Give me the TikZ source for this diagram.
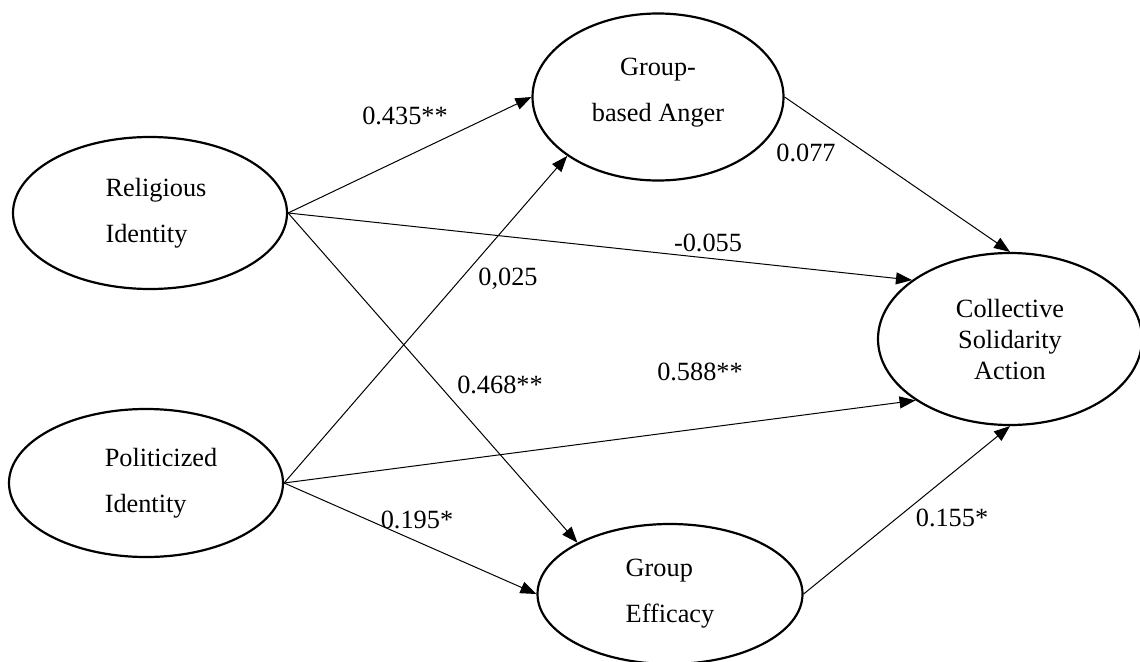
\documentclass[tikz,border=0pt]{standalone}
\usepackage{fontspec}
\setmainfont{Liberation Serif}
\usetikzlibrary{shapes.geometric,arrows.meta}
\begin{document}
\begin{tikzpicture}[x=1pt,y=-1pt,
  latent/.style={draw,ellipse,line width=2.2pt,inner sep=0pt,font=\fontsize{26.3}{46}\selectfont},
  pathline/.style={line width=1pt,-{Triangle[length=16pt,width=12pt]}},
  coef/.style={font=\fontsize{26.3}{30}\selectfont,inner sep=0pt}]
\useasboundingbox (0,0) rectangle (1140,661);
\node[latent,minimum width=274pt,minimum height=152pt,align=left] (rel) at (150,213) {\hspace*{12pt}Religious\\\hspace*{12pt}Identity};
\node[latent,minimum width=274pt,minimum height=148pt,align=left] (pol) at (146,483) {\hspace*{30pt}Politicized\\\hspace*{30pt}Identity};
\node[latent,minimum width=251pt,minimum height=167pt,align=center,text depth=14pt] (ang) at (658,97) {Group-\\based Anger};
\node[latent,minimum width=265pt,minimum height=140pt,align=left] (eff) at (670,594) {Group\\Efficacy};
\node[latent,minimum width=264pt,minimum height=172pt,align=center,font=\fontsize{26.3}{31}\selectfont] (col) at (1010,339) {Collective\\Solidarity\\Action};

\draw[pathline] (rel.east) -- (ang.west);
\draw[pathline] (rel.east) -- (col.149.5);
\draw[pathline] (rel.east) -- (eff.151.3);
\draw[pathline] (pol.east) -- (ang.213.7);
\draw[pathline] (pol.east) -- (col.213.3);
\draw[pathline] (pol.east) -- (eff.west);
\draw[pathline] (ang.east) -- (col.north);
\draw[pathline] (eff.east) -- (col.south);

\node[coef] (c1) at (405,116) {0.435**};
\node[coef] (c2) at (508,279) {0,025};
\node[coef] (c3) at (708,243) {-0.055};
\node[coef] (c4) at (806,153) {0.077};
\node[coef] (c5) at (500,385) {0.468**};
\node[coef] (c6) at (700,372) {0.588**};
\node[coef] (c7) at (417,520) {0.195*};
\node[coef] (c8) at (952,518) {0.155*};
\end{tikzpicture}
\end{document}
